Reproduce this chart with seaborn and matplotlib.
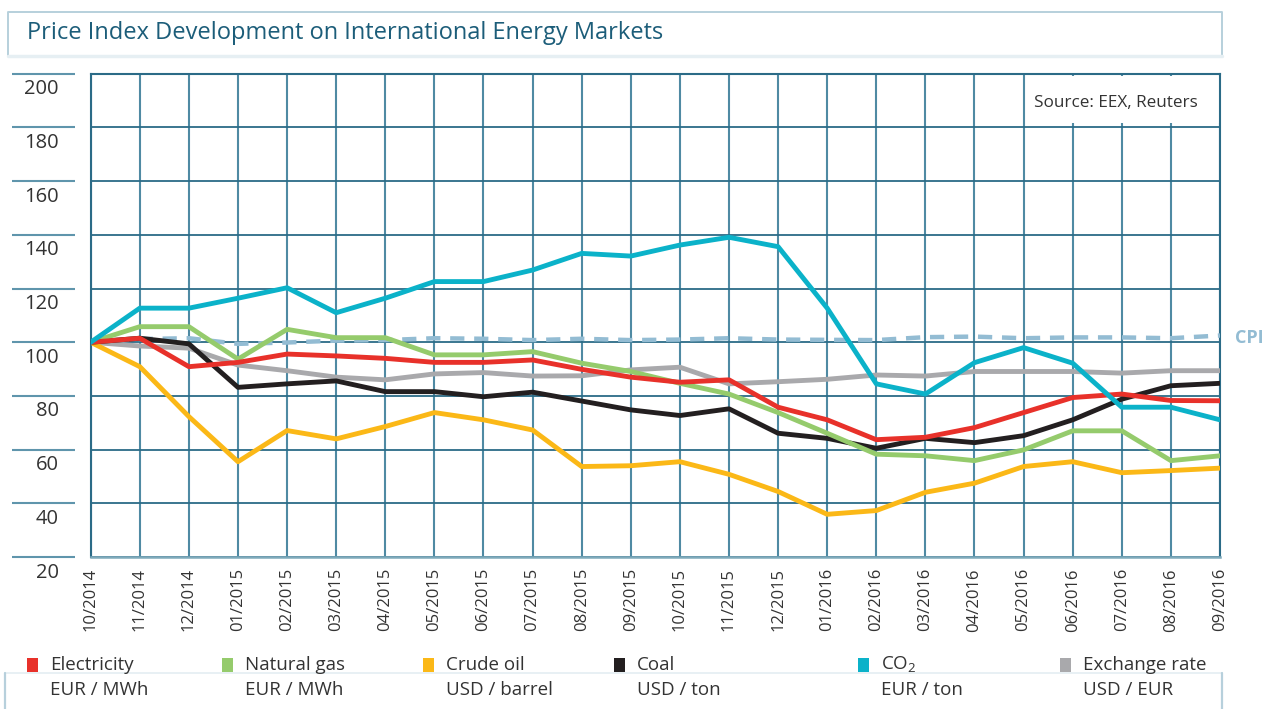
### Price index chart (energy markets)
import pandas as pd
import matplotlib
matplotlib.use("Agg")
import matplotlib.pyplot as plt
from matplotlib.patches import Rectangle
from matplotlib.lines import Line2D
from matplotlib.transforms import ScaledTranslation
import seaborn as sns

### Data (index, 10/2014 = 100)
months = ["10/2014", "11/2014", "12/2014", "01/2015", "02/2015", "03/2015", "04/2015", "05/2015",
          "06/2015", "07/2015", "08/2015", "09/2015", "10/2015", "11/2015", "12/2015", "01/2016",
          "02/2016", "03/2016", "04/2016", "05/2016", "06/2016", "07/2016", "08/2016", "09/2016"]
electricity = [100, 101.5, 90.9, 92.5, 95.6, 94.9, 94.0, 92.5, 92.5, 93.4, 89.9, 87.0,
               85.1, 86.0, 75.8, 71.1, 63.7, 64.6, 68.2, 73.8, 79.4, 80.7, 78.3, 78.2]
natural_gas = [100, 105.8, 105.8, 93.7, 104.8, 101.7, 101.7, 95.3, 95.3, 96.5, 92.2, 89.1,
               84.7, 80.7, 73.8, 66.1, 58.3, 57.7, 55.9, 59.9, 67.0, 67.0, 55.9, 57.7]
crude_oil = [100, 90.9, 72.3, 55.5, 67.1, 64.0, 68.6, 73.8, 71.1, 67.3, 53.7, 54.0,
             55.5, 50.8, 44.4, 35.9, 37.3, 44.1, 47.5, 53.7, 55.5, 51.4, 52.2, 53.1]
coal = [100, 101.5, 99.4, 83.2, 84.5, 85.6, 81.6, 81.6, 79.7, 81.4, 78.1, 74.8,
        72.7, 75.2, 66.1, 64.2, 60.5, 64.2, 62.6, 65.2, 71.1, 78.8, 83.8, 84.7]
co2 = [100, 112.7, 112.7, 116.4, 120.3, 111.0, 116.4, 122.6, 122.6, 126.9, 133.1, 132.1,
       136.2, 139.1, 135.6, 112.7, 84.5, 80.7, 92.4, 98.0, 92.2, 75.8, 75.8, 71.1]
exchange_rate = [100, 98.6, 97.8, 91.5, 89.4, 87.0, 86.0, 88.2, 88.7, 87.4, 87.5, 89.7,
                 90.7, 84.5, 85.3, 86.2, 87.8, 87.4, 89.1, 89.1, 89.1, 88.5, 89.4, 89.4]
cpi = [100, 101.2, 101.5, 99.4, 99.9, 100.6, 100.8, 101.5, 101.3, 100.8, 101.3, 100.8,
       101.0, 101.5, 101.0, 100.9, 100.8, 101.9, 102.1, 101.5, 101.8, 101.8, 101.5, 102.5]

series_names = ["Electricity", "Natural gas", "Crude oil", "Coal", "CO$_\\mathrm{2}$", "Exchange rate"]
series_units = ["EUR / MWh", "EUR / MWh", "USD / barrel", "USD / ton", "EUR / ton", "USD / EUR"]
series_values = [electricity, natural_gas, crude_oil, coal, co2, exchange_rate]
cores = ["#e8312a", "#95cb6c", "#fbb817", "#231f20", "#0bb2c9", "#a9a9ac"]
yticks = [20, 40, 60, 80, 100, 120, 140, 160, 180, 200]

### Estilo
sns.set_style("white")
plt.rcParams["font.family"] = ["Open Sans", "DejaVu Sans"]
plt.rcParams["mathtext.fontset"] = "custom"
plt.rcParams["mathtext.rm"] = "Open Sans"
grade = "#2b6b87"
texto = "#333333"
borda = "#b7d0dc"

df = pd.DataFrame({"mes": list(range(len(months)))})
for nome, vals in zip(series_names, series_values):
    df[nome] = vals
df["CPI"] = cpi
longo = df.melt(id_vars = "mes", var_name = "serie", value_name = "indice")

fig = plt.figure(figsize = (12.66, 7.09), dpi = 100)
ax = fig.add_axes([90.7/1266, 1 - 557/709, (1220 - 90.7)/1266, (557 - 73.8)/709])

# CPI tracejado primeiro, depois as outras séries
sns.lineplot(data = longo[longo["serie"] == "CPI"], x = "mes", y = "indice", ax = ax,
             color = "#93bcd3", linewidth = 3.2, linestyle = (0, (3.2, 2.2)), zorder = 3)
ordem = ["Exchange rate", "Crude oil", "Coal", "Natural gas", "Electricity", "CO$_\\mathrm{2}$"]
paleta = dict(zip(series_names, cores))
for nome in ordem:
    sns.lineplot(data = longo[longo["serie"] == nome], x = "mes", y = "indice", ax = ax,
                 color = paleta[nome], linewidth = 3.5, zorder = 4)

ax.set_xlim(0, len(months) - 1)
ax.set_ylim(20, 200)
ax.set_xticks(range(len(months)))
ax.set_xticklabels(months, rotation = 90, fontsize = 12, color = texto, va = "top")
ax.set_yticks(yticks)
ax.set_yticklabels([str(v) for v in yticks], fontsize = 14.5, color = texto)
ax.tick_params(axis = "x", length = 0, pad = 8)
ax.tick_params(axis = "y", length = 0, pad = 23)
for lab in ax.get_yticklabels():
    lab.set_transform(lab.get_transform() + ScaledTranslation(0, -0.13, fig.dpi_scale_trans))
ax.set_xlabel("")
ax.set_ylabel("")

ax.grid(True, axis = "y", color = grade, linewidth = 1.3)
ax.grid(True, axis = "x", color = "#4f8aa3", linewidth = 1.5)
ax.set_axisbelow(True)
for lado in ["top", "left", "right"]:
    ax.spines[lado].set_color(grade)
    ax.spines[lado].set_linewidth(1.5)
ax.spines["bottom"].set_color("#7faabb")
ax.spines["bottom"].set_linewidth(1.8)

# pedaços da grade à esquerda (sob os rótulos)
ax.hlines(yticks, -0.0697, -0.0139, transform = ax.get_yaxis_transform(), clip_on = False,
          color = "#5f95ac", linewidth = 1.5)

# caixa da fonte
ax.add_patch(Rectangle((0.829, 0.899), 0.171, 0.097, transform = ax.transAxes,
                       facecolor = "white", edgecolor = "none", zorder = 1))
ax.text(0.98, 0.94, "Source: EEX, Reuters", transform = ax.transAxes, ha = "right", va = "center",
        fontsize = 12.3, color = texto, zorder = 2)

# rótulo CPI
ax.annotate("CPI", xy = (len(months) - 1, cpi[-1]), xytext = (11, -2), textcoords = "offset points",
            ha = "left", va = "center", fontsize = 13, fontweight = "bold", color = "#93bcd3",
            annotation_clip = False)

# caixa do título
fig.patches.append(Rectangle((8/1266, 1 - 55/709), (1222 - 8)/1266, 43/709, transform = fig.transFigure,
                             facecolor = "white", edgecolor = "none"))
fig.lines.append(Line2D([8/1266, 8/1266, 1222/1266, 1222/1266], [1 - 55/709, 1 - 12/709, 1 - 12/709, 1 - 55/709],
                        transform = fig.transFigure, color = borda, linewidth = 1.4))
fig.lines.append(Line2D([8/1266, 1222/1266], [1 - 56/709, 1 - 56/709],
                        transform = fig.transFigure, color = "#e6eff3", linewidth = 2.5))
fig.text(27/1266, 1 - 33/709, "Price Index Development on International Energy Markets",
         fontsize = 17, color = "#1c5d79", va = "center", ha = "left")

# caixa da legenda (embaixo)
fig.lines.append(Line2D([5/1266, 1222/1266], [1 - 673/709, 1 - 673/709],
                        transform = fig.transFigure, color = "#e8f0f4", linewidth = 1.4))
for xb in [5, 1222]:
    fig.lines.append(Line2D([xb/1266, xb/1266], [0, 1 - 673/709],
                            transform = fig.transFigure, color = borda, linewidth = 1.6))
leg_x = [27, 222, 423, 614, 858, 1060]
for xq, nome, unidade, cor in zip(leg_x, series_names, series_units, cores):
    fig.patches.append(Rectangle((xq/1266, 1 - 672/709), 11/1266, 14/709, transform = fig.transFigure,
                                 facecolor = cor, edgecolor = "none", zorder = 2))
    fig.text((xq + 23)/1266, 1 - 665/709, nome, fontsize = 13.5, color = texto, va = "center", zorder = 3)
    fig.text((xq + 23)/1266, 1 - 690/709, unidade, fontsize = 13.5, color = texto, va = "center", zorder = 3)

plt.savefig("out.png", dpi = 100)
